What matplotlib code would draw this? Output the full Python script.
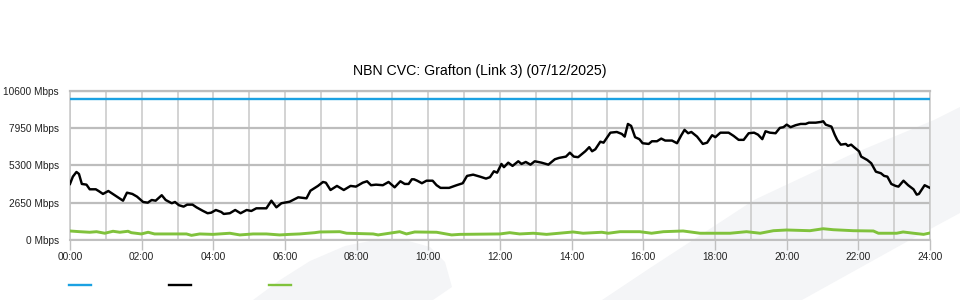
import matplotlib
matplotlib.use('Agg')
import matplotlib.pyplot as plt
from matplotlib.patches import Polygon
from matplotlib.lines import Line2D
from matplotlib.ticker import FixedLocator, MultipleLocator

plt.rcParams['font.family'] = ['Liberation Sans', 'DejaVu Sans']

# Chart data
title = 'NBN CVC: Grafton (Link 3) (07/12/2025)'
y_ticks = [0, 2650, 5300, 7950, 10600]
y_labels = ['%d Mbps' % v for v in y_ticks]
x_ticks = list(range(0, 25, 2))
x_labels = ['%02d:00' % h for h in x_ticks]

capacity_hours = [0, 24]
capacity_mbps = [10000, 10000]

traffic_hours = [
    0.00, 0.08, 0.18, 0.25, 0.33, 0.46, 0.55, 0.72, 0.81, 0.92, 1.07, 1.28,
    1.48, 1.59, 1.74, 1.87, 2.04, 2.17, 2.28, 2.39, 2.56, 2.67, 2.84, 2.93,
    3.04, 3.17, 3.27, 3.42, 3.53, 3.70, 3.84, 3.94, 4.07, 4.22, 4.29, 4.46,
    4.61, 4.76, 4.93, 5.06, 5.20, 5.48, 5.62, 5.76, 5.90, 6.13, 6.37, 6.60,
    6.71, 6.92, 7.06, 7.14, 7.27, 7.45, 7.64, 7.83, 7.98, 8.17, 8.29, 8.40,
    8.54, 8.73, 8.89, 9.06, 9.22, 9.34, 9.45, 9.54, 9.60, 9.69, 9.82, 9.95,
    10.12, 10.23, 10.34, 10.58, 10.79, 10.96, 11.08, 11.25, 11.44, 11.61,
    11.72, 11.83, 11.92, 12.04, 12.11, 12.23, 12.35, 12.51, 12.60, 12.72,
    12.85, 12.97, 13.16, 13.35, 13.53, 13.65, 13.84, 13.95, 14.06, 14.18,
    14.29, 14.38, 14.49, 14.57, 14.66, 14.80, 14.89, 15.08, 15.26, 15.40,
    15.48, 15.57, 15.66, 15.77, 15.89, 15.98, 16.15, 16.24, 16.38, 16.50,
    16.61, 16.80, 16.94, 17.06, 17.15, 17.25, 17.34, 17.50, 17.66, 17.78,
    17.92, 18.01, 18.15, 18.38, 18.52, 18.66, 18.80, 18.94, 19.09, 19.20,
    19.32, 19.41, 19.53, 19.69, 19.81, 19.91, 20.00, 20.11, 20.25, 20.39,
    20.53, 20.62, 20.81, 20.95, 21.02, 21.09, 21.25, 21.34, 21.41, 21.51,
    21.65, 21.71, 21.80, 21.88, 22.02, 22.08, 22.25, 22.36, 22.49, 22.63,
    22.72, 22.81, 22.92, 23.04, 23.12, 23.26, 23.39, 23.54, 23.63, 23.69,
    23.85, 24.00,
]
traffic_mbps = [
    3980, 4500, 4830, 4690, 3980, 3930, 3600, 3600, 3460, 3270, 3480, 3130,
    2790, 3360, 3270, 3080, 2700, 2650, 2840, 2790, 3180, 2840, 2610, 2700,
    2470, 2370, 2510, 2510, 2320, 2080, 1900, 1940, 2130, 1990, 1850, 1900,
    2130, 1900, 2130, 2060, 2250, 2250, 2790, 2320, 2610, 2720, 3030, 2960,
    3500, 3840, 4120, 4070, 3550, 3840, 3550, 3840, 3790, 4070, 4170, 3890,
    3930, 3890, 4120, 3740, 4170, 3980, 3980, 4310, 4310, 4210, 4030, 4210,
    4210, 3890, 3700, 3700, 3890, 4030, 4550, 4640, 4500, 4360, 4460, 4880,
    4780, 5400, 5170, 5490, 5260, 5590, 5400, 5540, 5350, 5590, 5490, 5350,
    5730, 5830, 5920, 6200, 5920, 5880, 6110, 6300, 6590, 6300, 6440, 6980,
    6910, 7620, 7670, 7530, 7340, 8240, 8100, 7300, 7160, 6870, 6820, 7010,
    7010, 7200, 7060, 7060, 6870, 7440, 7820, 7580, 7670, 7340, 6820, 6910,
    7440, 7300, 7620, 7620, 7390, 7110, 7110, 7580, 7620, 7480, 7160, 7720,
    7620, 7580, 7960, 8010, 8190, 8010, 8150, 8240, 8240, 8330, 8330, 8380,
    8430, 8190, 8050, 7480, 7110, 6770, 6820, 6680, 6770, 6590, 6300, 5920,
    5680, 5450, 4850, 4740, 4550, 4500, 3980, 3840, 3790, 4210, 3890, 3600,
    3220, 3270, 3890, 3700,
]

low_hours = [
    0.00, 0.27, 0.55, 0.74, 0.97, 1.20, 1.39, 1.62, 1.71, 1.99, 2.18, 2.36,
    3.25, 3.39, 3.62, 3.99, 4.46, 4.74, 5.11, 5.48, 5.85, 6.13, 6.41, 6.83,
    6.97, 7.53, 7.72, 8.46, 8.60, 9.20, 9.39, 9.62, 10.23, 10.65, 10.88,
    12.00, 12.27, 12.55, 12.93, 13.30, 14.04, 14.32, 14.84, 15.02, 15.35,
    15.90, 16.23, 16.56, 17.11, 17.58, 18.42, 18.88, 19.26, 19.63, 20.00,
    20.65, 21.02, 21.30, 21.86, 22.42, 22.56, 23.07, 23.25, 23.54, 23.82,
    24.00,
]
low_mbps = [
    640, 590, 550, 590, 480, 620, 550, 620, 520, 430, 550, 430,
    430, 330, 430, 400, 480, 360, 430, 430, 360, 400, 430, 520,
    570, 590, 480, 430, 360, 590, 430, 570, 550, 360, 400,
    430, 520, 430, 480, 400, 570, 480, 550, 480, 590,
    590, 480, 590, 640, 480, 480, 590, 480, 660, 710,
    660, 800, 730, 660, 640, 480, 480, 570, 480, 400,
    500,
]

W, H = 960, 300
fig = plt.figure(figsize=(9.6, 3), dpi=100)

# faint watermark shapes behind the plot
shape_a = [(253, 300), (280, 280), (310, 261), (345, 246), (375, 240),
           (405, 240), (430, 247), (445, 262), (452, 287), (433, 300)]
shape_b = [(602, 300), (650, 268), (693, 240), (754, 200), (850, 155),
           (934, 120), (960, 107), (960, 213), (910, 240), (856, 270),
           (802, 300)]
for pts in (shape_a, shape_b):
    fig.patches.append(Polygon([(x / W, 1 - y / H) for x, y in pts], closed=True,
                               transform=fig.transFigure, facecolor='#f4f5f7',
                               edgecolor='none', zorder=-5))

ax = fig.add_axes([70 / W, 60 / H, 860 / W, 149.3 / H])
ax.set_facecolor('none')

ax.plot(capacity_hours, capacity_mbps, color='#1ba1e2', lw=1.7, zorder=3)
ax.plot(low_hours, low_mbps, color='#80c23c', lw=2.1, zorder=3)
ax.plot(traffic_hours, traffic_mbps, color='black', lw=1.75, zorder=4)

ax.set_xlim(0, 24)
ax.set_ylim(0, 10600)
ax.xaxis.set_major_locator(FixedLocator(x_ticks))
ax.xaxis.set_minor_locator(MultipleLocator(1))
ax.set_xticklabels(x_labels, fontsize=7.3, color='#222222')
ax.set_yticks(y_ticks)
ax.set_yticklabels(y_labels, fontsize=7.3, color='#222222')

ax.grid(which='both', axis='x', color='#c8c8c8', lw=1.1)
ax.grid(which='major', axis='y', color='#bdbdbd', lw=1.6)
ax.set_axisbelow(True)
ax.tick_params(axis='x', which='major', length=7.2, width=1, color='#c0c0c0', pad=1.5)
ax.tick_params(axis='x', which='minor', length=0)
ax.tick_params(axis='y', length=0, pad=8)

for side in ('left', 'right'):
    ax.spines[side].set_color('#c8c8c8')
    ax.spines[side].set_linewidth(1.1)
ax.spines['top'].set_color('#bdbdbd')
ax.spines['top'].set_linewidth(1.6)
ax.spines['bottom'].set_color('#c0c0c0')
ax.spines['bottom'].set_linewidth(1.5)

fig.text(0.5, 1 - 71 / H, title, ha='center', va='center', fontsize=10.2)

# legend swatches without text
for x0, col in ((69, '#1ba1e2'), (169, 'black'), (269, '#80c23c')):
    fig.add_artist(Line2D([x0 / W, (x0 + 22) / W], [1 - 285 / H] * 2,
                          transform=fig.transFigure, color=col, lw=1.7))

fig.savefig('out.png', dpi=100)
